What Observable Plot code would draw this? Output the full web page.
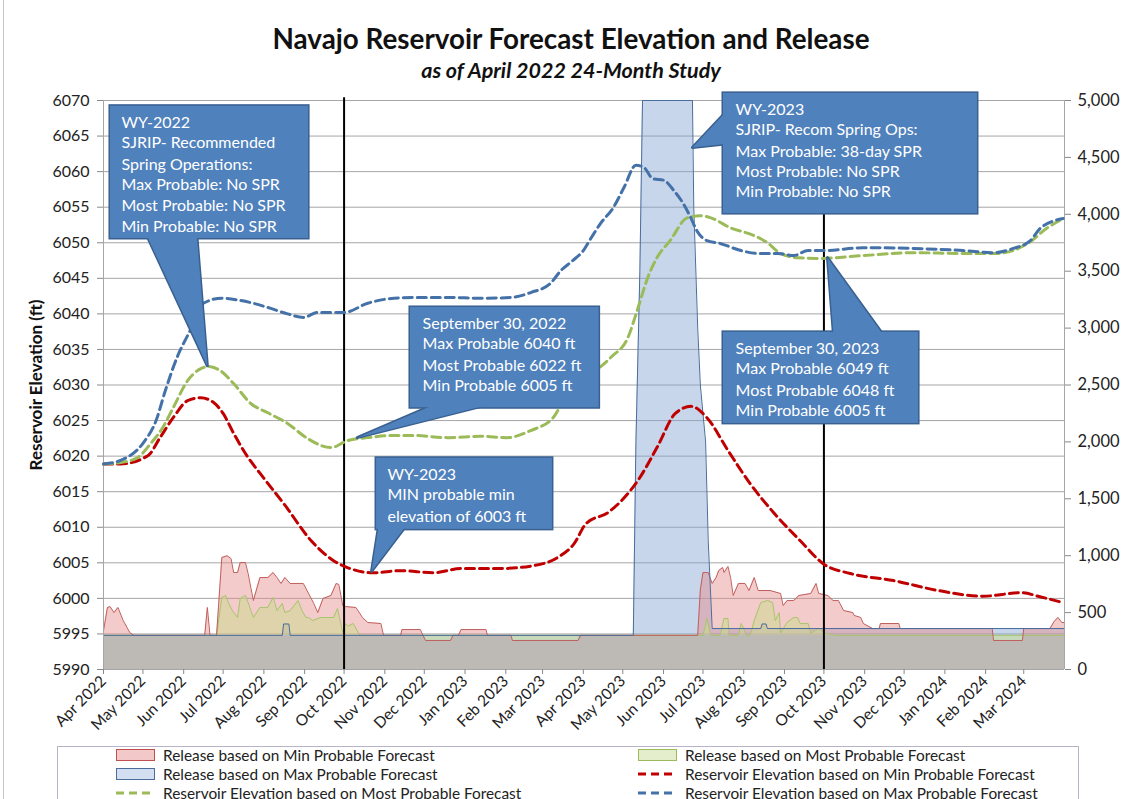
<!DOCTYPE html>
<html><head><meta charset="utf-8">
<script src="https://cdn.jsdelivr.net/npm/d3@7"></script>
<script src="https://cdn.jsdelivr.net/npm/@observablehq/plot@0.6"></script>
<style>
body{margin:0;background:#fff;}
#wrap{position:relative;width:1124px;height:799px;overflow:hidden;font-family:Lato,"Open Sans",sans-serif;background:#fff}
#title{position:absolute;left:571px;top:22px;transform:translateX(-50%);white-space:nowrap;font-weight:bold;font-size:27.8px;color:#111;}
#subtitle{position:absolute;left:571px;top:57px;transform:translateX(-50%);white-space:nowrap;font-weight:bold;font-style:italic;font-size:21.5px;color:#111;}
#chart{position:absolute;left:0;top:85px;}
.ylab{position:absolute;font-weight:bold;font-size:17px;white-space:nowrap;color:#111;transform:translate(-50%,-50%) rotate(-90deg);}
#legend{position:absolute;left:57px;top:746px;width:1020px;height:70px;border:1px solid #b8b4c8;}
.item{position:absolute;font-size:15.4px;color:#222;white-space:nowrap;height:18px;line-height:18px;width:460px}
.item svg{position:absolute;left:0;top:3px}
.item span{position:absolute;left:47px;top:0}
#border{position:absolute;left:3px;top:0;width:1px;height:799px;background:#c8c8c8}
</style></head>
<body>
<div id="wrap">
  <div id="border"></div>
  <div id="title">Navajo Reservoir Forecast Elevation and Release</div>
  <div id="subtitle">as of April 2022 24-Month Study</div>
  <div id="chart"></div>
  <div class="ylab" style="left:35px;top:385px">Reservoir Elevation (ft)</div>
  <div class="ylab" style="left:1131px;top:385px">Release (cfs)</div>
  <div id="legend"></div>
</div>
<script>
const START = Date.UTC(2022, 3, 1);
const day = d => new Date(START + d * 864e5);
const ft = c => 5990 + c * 0.016; // release (cfs) on the right axis: 0..5000 cfs == 5990..6070 ft

// ---- Reservoir elevation (ft), days since 2022-04-01 ----
const maxElevDays = [0,13,30,40,47,56,66,76,90,104,125,140,152,163,183,201,221,236,262,287,310,325,340,348,357,365,371,378,388,396,405,411,418,426,434,441,446,452,459,469,485,498,513,525,536,548,578,616,654,677,692,705,713,730];
const maxElevFt   = [6018.9,6019.4,6021.8,6025.0,6029.2,6033.9,6037.7,6041.5,6042.2,6041.9,6040.9,6040.0,6039.5,6040.2,6040.2,6041.5,6042.2,6042.3,6042.3,6042.2,6042.3,6043.0,6044.3,6046.1,6047.5,6048.9,6050.7,6052.7,6055.0,6057.8,6060.9,6060.6,6059.0,6058.8,6057.3,6055.5,6053.8,6051.5,6050.3,6049.9,6048.9,6048.5,6048.5,6048.2,6048.9,6048.9,6049.3,6049.2,6048.9,6048.6,6049.2,6050.3,6052.1,6053.4];

const mostElevDays = [0,13,26,36,45,53,64,74,80,89,99,112,125,140,155,173,186,201,221,236,262,287,307,325,342,350,368,386,399,406,414,421,431,444,454,462,477,495,505,515,528,545,578,616,654,680,703,718,730];
const mostElevFt   = [6018.9,6019.1,6019.8,6021.8,6024.0,6026.8,6030.6,6032.3,6032.6,6032.0,6030.2,6027.4,6026.1,6024.6,6022.5,6021.2,6022.2,6022.6,6022.9,6022.9,6022.6,6022.8,6022.6,6023.6,6025.4,6027.8,6031.0,6033.9,6036.7,6040.5,6045.1,6047.9,6050.3,6053.5,6053.8,6053.5,6052.1,6051.0,6050.0,6048.5,6047.9,6047.8,6048.2,6048.6,6048.5,6048.5,6049.9,6052.1,6053.4];

const minElevDays = [0,13,34,43,53,64,74,84,91,99,110,119,138,158,175,186,205,226,251,272,302,327,345,358,367,384,408,421,435,447,459,475,492,510,530,548,568,601,635,669,698,713,730];
const minElevFt   = [6018.9,6018.9,6020.1,6022.6,6025.4,6027.8,6028.2,6027.5,6026.0,6023.2,6019.8,6017.6,6013.1,6008.1,6005.3,6004.3,6003.6,6003.9,6003.6,6004.2,6004.2,6004.6,6005.7,6007.7,6010.5,6012.1,6017.0,6021.2,6026.0,6027.0,6025.4,6020.8,6016.1,6012.0,6008.1,6004.8,6003.5,6002.5,6001.1,6000.3,6000.8,6000.2,5999.4];

// ---- Releases (cfs) ----
const minRelDays = [0,3,5,8,11,15,20,23,77,79,81,86,90,94,97,99,102,104,108,110,114,119,125,129,132,135,138,142,152,160,163,167,173,177,179,182,184,192,197,201,211,213,226,227,241,243,245,264,266,270,272,291,292,310,311,361,363,452,454,456,460,463,466,468,471,472,475,477,479,483,488,491,495,498,507,515,517,520,525,529,538,542,544,551,555,559,563,570,571,576,578,585,590,591,605,606,676,677,699,700,720,723,726,729,731];
const minRelCfs  = [340,545,553,500,545,430,325,300,300,545,300,300,984,1000,975,852,852,940,940,843,606,808,808,852,808,756,808,756,756,580,500,624,650,756,747,562,553,545,457,413,404,300,300,351,351,300,255,255,300,300,351,351,300,300,255,255,300,300,700,852,852,756,808,870,896,852,905,808,650,756,756,694,808,694,694,668,562,606,606,650,668,756,668,650,606,606,518,500,475,457,404,360,360,404,404,360,360,255,255,360,360,420,457,413,413];

const mostRelDays = [0,86,90,93,95,98,102,104,108,110,114,119,125,129,132,136,138,142,145,148,151,154,156,159,165,175,178,182,184,186,190,195,456,459,462,469,472,475,476,483,485,487,489,492,495,500,505,509,511,514,515,520,525,528,530,536,538,544,549,557,731];
const mostRelCfs  = [300,300,633,650,589,518,457,624,650,589,457,545,545,633,518,580,500,518,562,606,518,457,457,430,457,457,536,325,404,380,404,300,300,448,300,300,448,448,300,300,404,360,300,300,430,589,606,589,430,500,320,413,457,457,404,404,320,360,320,300,300];

const maxRelDays = [0,136,137,141,142,403,405,408,410,448,449,452,454,458,460,463,500,501,504,505,731];
const maxRelCfs  = [300,300,400,400,300,300,2000,3500,5000,5000,4060,3000,2500,2000,1130,360,360,400,400,360,360];

const baseDays = [0,244,245,264,265,310,311,361,362,676,677,699,700,731];
const baseCfs  = [300,300,255,255,300,300,255,255,300,300,255,255,300,300];

// ---- Axis ticks ----
const elevTicks = d3.range(5990, 6071, 5);
const relTicks = d3.range(0, 5001, 500);
const monthTicks = d3.utcMonth.range(day(0), day(731));
const waterYearStarts = [day(183), day(548)];

// ---- Callout annotations (data coordinates: day, ft) ----
const calloutBoxes = [
  {d1:5.3, d2:156, e1:6069.2, e2:6050.6},
  {d1:233.5, d2:377, e1:6040.9, e2:6026.8},
  {d1:207.7, d2:341.5, e1:6019.7, e2:6009.7},
  {d1:471.6, d2:664.8, e1:6071.0, e2:6054.1},
  {d1:471.6, d2:620, e1:6037.4, e2:6024.6}
];
const calloutPointers = [
  [[33,6051.0],[71,6051.0],[79,6032.7]],
  [[251,6027.2],[292,6027.2],[193,6022.6]],
  [[209.2,6010.1],[229.7,6010.1],[203.9,6003.8]],
  [[472.5,6068.2],[472.5,6063.9],[448,6063.4]],
  [[555.3,6037.0],[593.3,6037.0],[550.7,6047.9]]
];
const calloutText = [
  {d:13.7, e:[6066.9,6064.1,6061.0,6058.2,6055.2,6052.3], lines:["WY-2022","SJRIP- Recommended","Spring Operations:","Max Probable: No SPR","Most Probable: No SPR","Min Probable: No SPR"]},
  {d:242.7, e:[6038.6,6035.8,6032.7,6029.9], lines:["September 30, 2022","Max Probable 6040 ft","Most Probable 6022 ft","Min Probable 6005 ft"]},
  {d:216, e:[6017.4,6014.5,6011.5], lines:["WY-2023","MIN probable min","elevation of 6003 ft"]},
  {d:480.8, e:[6068.7,6065.8,6062.8,6059.9,6057.1], lines:["WY-2023","SJRIP- Recom Spring Ops:","Max Probable: 38-day SPR","Most Probable: No SPR","Min Probable: No SPR"]},
  {d:480.8, e:[6035.1,6032.3,6029.2,6026.3], lines:["September 30, 2023","Max Probable 6049 ft","Most Probable 6048 ft","Min Probable 6005 ft"]}
];

// ---- tables ----
const elev = (days, vals) => days.map((d, i) => ({date: day(d), v: vals[i]}));
const rel = (days, vals) => days.map((d, i) => ({date: day(d), v: ft(vals[i])}));
const maxElev = elev(maxElevDays, maxElevFt);
const mostElev = elev(mostElevDays, mostElevFt);
const minElev = elev(minElevDays, minElevFt);
const minRel = rel(minRelDays, minRelCfs);
const mostRel = rel(mostRelDays, mostRelCfs);
const maxRel = rel(maxRelDays, maxRelCfs);
const baseRel = rel(baseDays, baseCfs);
const boxes = calloutBoxes.map(b => ({x1: day(b.d1), x2: day(b.d2), y1: b.e1, y2: b.e2}));
const tris = calloutPointers.flatMap((p, k) => [...p, p[0]].map(([d, e]) => ({id: k, x: day(d), y: e})));
const texts = calloutText.flatMap(c => c.lines.map((t, i) => ({x: day(c.d), y: c.e[i], t})));

const C = {
  blue: "#4472a8", red: "#c00000", green: "#9bbb59",
  calloutFill: "#4f81bd", calloutStroke: "#3a6090", grid: "#a6a6a6", base: "#bdb9b4"
};
const dash = "9,5";

const chart = Plot.plot({
  width: 1124, height: 660,
  marginLeft: 103, marginRight: 60, marginTop: 15, marginBottom: 76,
  style: {fontFamily: "Lato, sans-serif", fontSize: "14px", color: "#222", background: "transparent", overflow: "visible"},
  x: {type: "utc", domain: [day(0), day(731)]},
  y: {domain: [5990, 6070]},
  marks: [
    Plot.gridY(elevTicks, {stroke: C.grid, strokeOpacity: 1}),
    Plot.areaY(maxRel, {x: "date", y1: 5990, y2: "v", fill: "rgb(130,165,210)", fillOpacity: 0.45}),
    Plot.areaY(minRel, {x: "date", y1: 5990, y2: "v", fill: "rgb(230,140,140)", fillOpacity: 0.45}),
    Plot.areaY(mostRel, {x: "date", y1: 5990, y2: "v", fill: "rgb(200,220,140)", fillOpacity: 0.5}),
    Plot.areaY(baseRel, {x: "date", y1: 5990, y2: "v", fill: C.base}),
    Plot.lineY(mostRel, {x: "date", y: "v", stroke: "#a9c46e", strokeWidth: 1}),
    Plot.lineY(minRel, {x: "date", y: "v", stroke: "#c0605d", strokeWidth: 1}),
    Plot.lineY(maxRel, {x: "date", y: "v", stroke: "#4a6d9c", strokeWidth: 1}),
    Plot.ruleX([day(0), day(731)], {y1: 5990, y2: 6070, stroke: C.grid}),
    Plot.ruleX(waterYearStarts, {y1: 5990, y2: 6070.4, stroke: "#000", strokeWidth: 2}),
    Plot.line(minElev, {x: "date", y: "v", stroke: C.red, strokeWidth: 3, strokeDasharray: dash, curve: "monotone-x"}),
    Plot.line(mostElev, {x: "date", y: "v", stroke: C.green, strokeWidth: 3, strokeDasharray: dash, curve: "monotone-x"}),
    Plot.line(maxElev, {x: "date", y: "v", stroke: C.blue, strokeWidth: 3, strokeDasharray: dash, curve: "monotone-x"}),
    // callouts: outline pass, then fill pass (union outline)
    Plot.rect(boxes, {x1: "x1", x2: "x2", y1: "y1", y2: "y2", fill: C.calloutFill, stroke: C.calloutStroke, strokeWidth: 3}),
    Plot.line(tris, {x: "x", y: "y", z: "id", fill: C.calloutFill, stroke: C.calloutStroke, strokeWidth: 3, curve: "linear"}),
    Plot.rect(boxes, {x1: "x1", x2: "x2", y1: "y1", y2: "y2", fill: C.calloutFill}),
    Plot.line(tris, {x: "x", y: "y", z: "id", fill: C.calloutFill, stroke: "none", curve: "linear"}),
    Plot.text(texts, {x: "x", y: "y", text: "t", textAnchor: "start", fill: "#fff", fontSize: 16}),
    // axes
    Plot.axisY({anchor: "left", ticks: elevTicks, tickFormat: d => String(d), tickSize: 6, tickPadding: 8, fontSize: 16, stroke: "#888", fill: "#222", label: null}),
    Plot.axisY({anchor: "right", ticks: relTicks.map(ft), tickFormat: f => d3.format(",")(Math.round((f - 5990) / 0.016)), tickSize: 6, tickPadding: 7, fontSize: 16.5, stroke: "#888", fill: "#222", label: null}),
    Plot.axisX({ticks: monthTicks, tickFormat: d3.utcFormat("%b %Y"), tickRotate: -45, tickSize: 5, tickPadding: 4, fontSize: 15.5, stroke: "#888", fill: "#222", label: null})
  ]
});
document.getElementById("chart").appendChild(chart);

// ---- legend ----
const legendItems = [
  {label: "Release based on Min Probable Forecast", type: "area", fill: "#f2c8c8", stroke: "#c0504d", col: 0, row: 0},
  {label: "Release based on Most Probable Forecast", type: "area", fill: "#e4edcc", stroke: "#9bbb59", col: 1, row: 0},
  {label: "Release based on Max Probable Forecast", type: "area", fill: "#d3dff0", stroke: "#4a6d9c", col: 0, row: 1},
  {label: "Reservoir Elevation based on Min Probable Forecast", type: "line", stroke: C.red, col: 1, row: 1},
  {label: "Reservoir Elevation based on Most Probable Forecast", type: "line", stroke: C.green, col: 0, row: 2},
  {label: "Reservoir Elevation based on Max Probable Forecast", type: "line", stroke: C.blue, col: 1, row: 2}
];
const legend = document.getElementById("legend");
for (const it of legendItems) {
  const div = document.createElement("div");
  div.className = "item";
  div.style.left = (it.col ? 580 : 58) + "px";
  div.style.top = (-1 + it.row * 19) + "px";
  const sw = it.type === "area"
    ? `<svg width="40" height="12"><rect x="0.5" y="0.5" width="38" height="11" fill="${it.fill}" stroke="${it.stroke}"/></svg>`
    : `<svg width="40" height="12"><line x1="0" x2="38" y1="6" y2="6" stroke="${it.stroke}" stroke-width="3" stroke-dasharray="8,5"/></svg>`;
  div.innerHTML = sw + `<span>${it.label}</span>`;
  legend.appendChild(div);
}
</script>
</body></html>
